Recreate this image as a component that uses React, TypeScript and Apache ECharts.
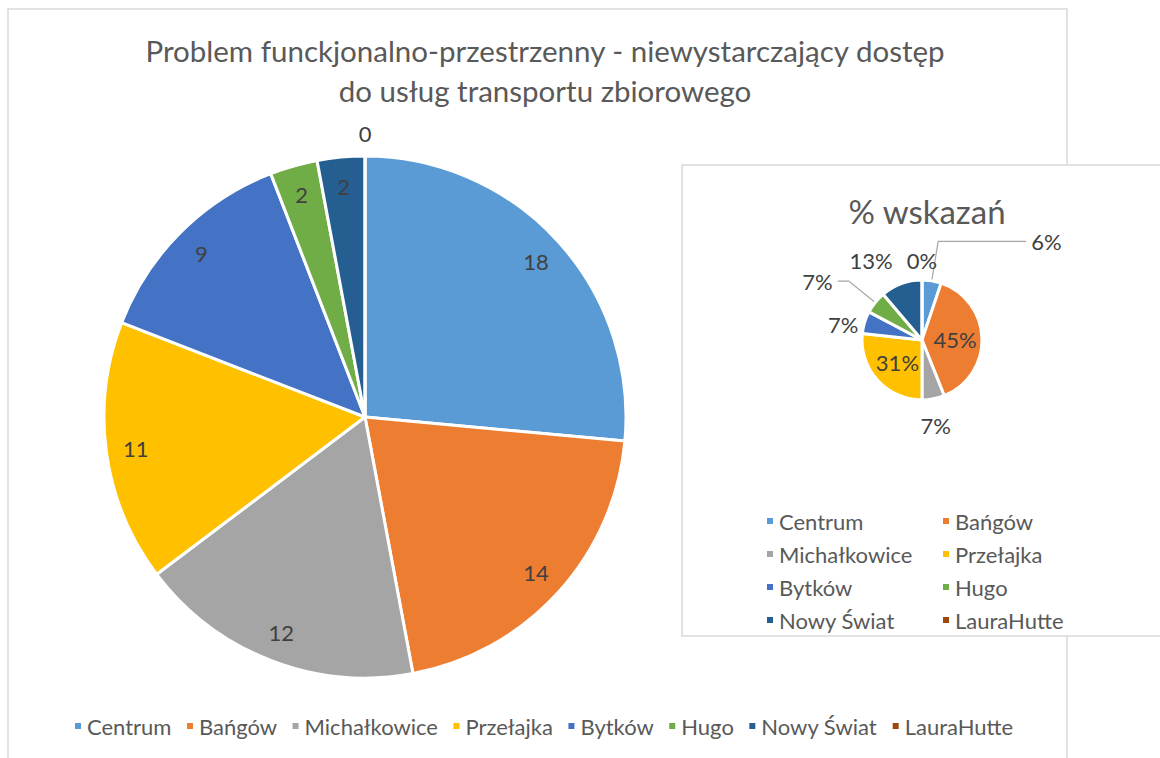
import React, { useEffect, useRef } from 'react';
import * as echarts from 'echarts';

const categories = ['Centrum', 'Bańgów', 'Michałkowice', 'Przełajka', 'Bytków', 'Hugo', 'Nowy Świat', 'LauraHutte'];
const counts = [18, 14, 12, 11, 9, 2, 2, 0];
const percents = [6, 45, 7, 31, 7, 7, 13, 0];
const colors = ['#5B9BD5', '#ED7D31', '#A5A5A5', '#FFC000', '#4472C4', '#70AD47', '#255E91', '#9E480E'];
const titleLines = ['Problem funckjonalno-przestrzenny - niewystarczający dostęp', 'do usług transportu zbiorowego'];
const insetTitle = '% wskazań';
const insetLeftColumn = ['Centrum', 'Michałkowice', 'Bytków', 'Nowy Świat'];
const insetRightColumn = ['Bańgów', 'Przełajka', 'Hugo', 'LauraHutte'];

const FONT = 'Lato, "Noto Sans", sans-serif';
const LABEL_COLOR = '#404040';
const TEXT_COLOR = '#595959';

// per-slice label placement for the inset pie (by index)
const insetLabelCfg: any[] = [
  { position: 'outside', line: true, length: 40, length2: 88 },
  { position: 'inside' },
  { position: 'outside', line: false, length: 27, length2: -18 },
  { position: 'inside' },
  { position: 'outside', line: false, length: -8, length2: 14 },
  { position: 'outside', line: true, length: 34, length2: 11 },
  { position: 'outside', line: false, length: 25, length2: 0 },
  { position: 'hidden' },
];

export default function App() {
  const ref = useRef<HTMLDivElement>(null);
  useEffect(() => {
    if (!ref.current) return;
    const chart = echarts.init(ref.current, null, { renderer: 'svg' });
    const MAIN_C = [365, 417];
    const MAIN_R = 261;
    const INSET_C = [922, 340];
    const INSET_R = 60;

    const mainData = categories.map((n, i) => ({ name: n, value: counts[i], itemStyle: { color: colors[i] } }));
    const labelData = categories.map((n, i) => ({ name: n, value: counts[i] }));
    const zeroData = categories.map((n, i) => ({
      name: n,
      value: counts[i],
      label: { show: counts[i] === 0 },
    }));
    const insetData = categories.map((n, i) => {
      const cfg = insetLabelCfg[i];
      const item: any = { name: n, value: percents[i], itemStyle: { color: colors[i] } };
      if (cfg.position === 'hidden') {
        item.label = { show: false };
        item.labelLine = { show: false };
      } else if (cfg.position === 'inside') {
        item.label = { position: 'inside' };
        item.labelLine = { show: false };
      } else {
        item.label = { position: 'outside', distanceToLabelLine: cfg.line ? 5 : 0 };
        item.labelLine = { show: cfg.line, length: cfg.length, length2: cfg.length2 };
      }
      return item;
    });
    const insetZeroData = categories.map((n, i) => ({
      name: n,
      value: percents[i],
      label: { show: percents[i] === 0 },
    }));

    const legendText = { fontSize: 22, color: TEXT_COLOR, fontFamily: FONT };

    chart.setOption({
      animation: false,
      graphic: [
        {
          type: 'rect',
          shape: { x: 8, y: 9, width: 1059, height: 800 },
          style: { fill: '#fff', stroke: '#d9d9d9', lineWidth: 1.5 },
          silent: true,
        },
        {
          type: 'rect',
          shape: { x: 682, y: 165, width: 520, height: 471 },
          style: { fill: '#fff', stroke: '#d9d9d9', lineWidth: 1.5 },
          silent: true,
        },
      ],
      title: [
        {
          text: titleLines.join('\n'),
          left: 540,
          top: 25,
          textAlign: 'center',
          textStyle: { fontSize: 29.5, fontWeight: 'normal', color: TEXT_COLOR, fontFamily: FONT, lineHeight: 40 },
        },
        {
          text: insetTitle,
          left: 922,
          top: 189,
          textAlign: 'center',
          textStyle: { fontSize: 33, fontWeight: 'normal', color: TEXT_COLOR, fontFamily: FONT },
        },
      ],
      legend: [
        {
          data: categories,
          orient: 'horizontal',
          left: 68,
          top: 710,
          icon: 'rect',
          itemWidth: 8,
          itemHeight: 8,
          itemGap: 13.5,
          selectedMode: false,
          textStyle: legendText,
        },
        {
          data: insetLeftColumn,
          orient: 'vertical',
          left: 760,
          top: 505,
          icon: 'rect',
          itemWidth: 8,
          itemHeight: 8,
          itemGap: 11,
          selectedMode: false,
          textStyle: legendText,
        },
        {
          data: insetRightColumn,
          orient: 'vertical',
          left: 936,
          top: 505,
          icon: 'rect',
          itemWidth: 8,
          itemHeight: 8,
          itemGap: 11,
          selectedMode: false,
          textStyle: legendText,
        },
      ],
      series: [
        {
          name: 'main',
          type: 'pie',
          center: MAIN_C,
          radius: MAIN_R,
          startAngle: 90,
          clockwise: true,
          silent: true,
          label: { show: false },
          labelLine: { show: false },
          itemStyle: { borderColor: '#fff', borderWidth: 3 },
          data: mainData,
        },
        {
          name: 'mainLabels',
          type: 'pie',
          center: MAIN_C,
          radius: [196, MAIN_R],
          startAngle: 90,
          silent: true,
          legendHoverLink: false,
          itemStyle: { color: 'rgba(0,0,0,0)' },
          label: {
            show: true,
            position: 'inside',
            formatter: (p: any) => (p.value === 0 ? '' : String(p.value)),
            fontSize: 22,
            color: LABEL_COLOR,
            fontFamily: FONT,
          },
          labelLine: { show: false },
          data: labelData,
        },
        {
          name: 'mainZero',
          type: 'pie',
          center: MAIN_C,
          radius: [279, 283],
          startAngle: 90,
          silent: true,
          legendHoverLink: false,
          itemStyle: { color: 'rgba(0,0,0,0)' },
          label: { show: false, position: 'inside', fontSize: 22, color: LABEL_COLOR, fontFamily: FONT, formatter: '{c}' },
          labelLine: { show: false },
          data: zeroData,
        },
        {
          name: 'inset',
          type: 'pie',
          center: INSET_C,
          radius: INSET_R,
          startAngle: 90,
          silent: true,
          avoidLabelOverlap: false,
          itemStyle: { borderColor: '#fff', borderWidth: 3 },
          label: { formatter: '{c}%', fontSize: 22, color: LABEL_COLOR, fontFamily: FONT },
          labelLine: { lineStyle: { color: '#A6A6A6', width: 1.2 } },
          data: insetData,
        },
        {
          name: 'insetZero',
          type: 'pie',
          center: INSET_C,
          radius: [75, 79],
          startAngle: 90,
          silent: true,
          legendHoverLink: false,
          itemStyle: { color: 'rgba(0,0,0,0)' },
          label: { show: false, position: 'inside', fontSize: 22, color: LABEL_COLOR, fontFamily: FONT, formatter: '{c}%' },
          labelLine: { show: false },
          data: insetZeroData,
        },
      ],
    });
    return () => chart.dispose();
  }, []);
  return <div ref={ref} style={{ position: 'absolute', left: 0, top: 0, width: 1160, height: 758 }} />;
}
